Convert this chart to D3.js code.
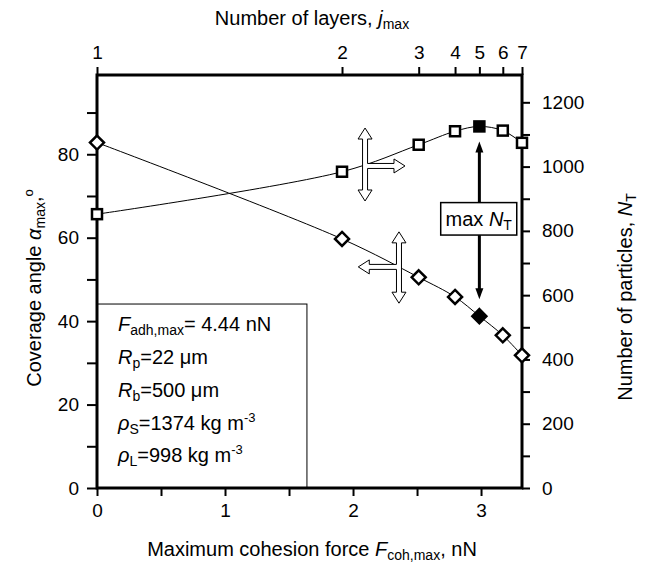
<!DOCTYPE html>
<html>
<head>
<meta charset="utf-8">
<script src="https://cdn.jsdelivr.net/npm/d3@7"></script>
<style>
  html, body { margin: 0; padding: 0; background: #fff; }
  svg { display: block; font-family: "Liberation Sans", Arial, sans-serif; }
</style>
</head>
<body>
<svg id="chart" width="648" height="564"></svg>
<script>
// ---- data ----
const layers = [1, 2, 3, 4, 5, 6, 7];                       // j_max (top axis)
const force  = [0, 1.914, 2.513, 2.797, 2.987, 3.17, 3.32]; // F_coh,max, nN
const alpha  = [82.8, 59.7, 50.5, 45.8, 41.2, 36.6, 31.8];  // coverage angle, deg
const NT     = [852, 984, 1068, 1110, 1125, 1112, 1074];    // number of particles
const maxIndex = 4;
const leftTicks   = [0, 10, 20, 30, 40, 50, 60, 70, 80, 90];
const rightTicks  = [0, 100, 200, 300, 400, 500, 600, 700, 800, 900, 1000, 1100, 1200];
const bottomTicks = [0, 0.5, 1, 1.5, 2, 2.5, 3];

const svg = d3.select("#chart");
const L = 97, R = 522, T = 75, B = 488;
const x  = d3.scaleLinear().domain([0, 3.32]).range([L, R]);
const yL = d3.scaleLinear().domain([0, 99]).range([B, T]);
const yR = d3.scaleLinear().domain([0, 1285]).range([B, T]);

const FS = 19, TFS = 20;

// legend box
svg.append("rect")
  .attr("x", x(0)).attr("y", yL(44.1))
  .attr("width", x(1.64) - x(0)).attr("height", yL(0) - yL(44.1))
  .attr("fill", "#fff").attr("stroke", "#000").attr("stroke-width", 1);

// axes
function styleAxis(g) {
  g.select(".domain").remove();
  g.selectAll(".tick line").attr("stroke", "#000").attr("stroke-width", 2);
  g.selectAll(".tick text").attr("fill", "#000").style("font-size", FS + "px")
    .style("font-family", '"Liberation Sans", Arial, sans-serif');
}
svg.append("g").attr("transform", `translate(${L},0)`)
  .call(d3.axisLeft(yL).tickValues(leftTicks).tickFormat(d => d % 20 === 0 ? d : "").tickSize(10).tickPadding(8))
  .call(styleAxis);
svg.append("g").attr("transform", `translate(${R},0)`)
  .call(d3.axisRight(yR).tickValues(rightTicks).tickFormat(d => d % 200 === 0 ? d : "").tickSize(8).tickPadding(12))
  .call(styleAxis);
svg.append("g").attr("transform", `translate(0,${B})`)
  .call(d3.axisBottom(x).tickValues(bottomTicks).tickFormat(d => Number.isInteger(d) ? d : "").tickSize(8).tickPadding(8))
  .call(styleAxis);
svg.append("g").attr("transform", `translate(0,${T})`)
  .call(d3.axisTop(x).tickValues(force).tickFormat((d, i) => layers[i]).tickSize(8).tickPadding(8))
  .call(styleAxis);

// frame
svg.append("rect").attr("x", L).attr("y", T).attr("width", R - L).attr("height", B - T)
  .attr("fill", "none").attr("stroke", "#000").attr("stroke-width", 3);

// lines
const curve = d3.curveCatmullRom.alpha(0.5);
const lineA = d3.line().x((d, i) => x(force[i])).y(d => yL(d)).curve(curve);
const lineN = d3.line().x((d, i) => x(force[i])).y(d => yR(d)).curve(curve);
svg.append("path").attr("d", lineA(alpha)).attr("fill", "none").attr("stroke", "#000").attr("stroke-width", 1);
svg.append("path").attr("d", lineN(NT)).attr("fill", "none").attr("stroke", "#000").attr("stroke-width", 1);

// markers
svg.selectAll(".sq").data(NT).enter().append("rect")
  .attr("x", (d, i) => x(force[i]) - 5).attr("y", d => yR(d) - 5)
  .attr("width", 10).attr("height", 10)
  .attr("fill", (d, i) => i === maxIndex ? "#000" : "#fff")
  .attr("stroke", "#000").attr("stroke-width", 2.5);
svg.selectAll(".dm").data(alpha).enter().append("path")
  .attr("d", (d, i) => {
    const cx = x(force[i]), cy = yL(d), r = 7;
    return `M${cx},${cy - r}L${cx + r},${cy}L${cx},${cy + r}L${cx - r},${cy}Z`;
  })
  .attr("fill", (d, i) => i === maxIndex ? "#000" : "#fff")
  .attr("stroke", "#000").attr("stroke-width", 2.5);

// hollow cross arrows
function crossArrow(cx, top, bottom, hy, tipX) {
  const dir = tipX > cx ? 1 : -1;
  const sw = 2.5, hw = 7, hl = 11;
  const p = [
    [cx, top], [cx + dir * hw, top + hl], [cx + dir * sw, top + hl], [cx + dir * sw, hy - sw],
    [tipX - dir * hl, hy - sw], [tipX - dir * hl, hy - hw], [tipX, hy], [tipX - dir * hl, hy + hw],
    [tipX - dir * hl, hy + sw], [cx + dir * sw, hy + sw], [cx + dir * sw, bottom - hl],
    [cx + dir * hw, bottom - hl], [cx, bottom], [cx - dir * hw, bottom - hl], [cx - dir * sw, bottom - hl],
    [cx - dir * sw, top + hl], [cx - dir * hw, top + hl]
  ];
  svg.append("path").attr("d", "M" + p.map(q => q.join(",")).join("L") + "Z")
    .attr("fill", "#fff").attr("stroke", "#000").attr("stroke-width", 1);
}
crossArrow(x(2.094), yR(1120), yR(893), yR(1002), x(2.406));
crossArrow(x(2.359), yL(61.4), yL(44.3), yL(53.0), x(2.041));

// max N_T box and black arrows
const ax = x(force[maxIndex]);
const boxTop = yR(888), boxBot = yR(787);
function blackArrow(x0, y0, y1) {
  const dir = y1 < y0 ? -1 : 1;
  svg.append("line").attr("x1", x0).attr("y1", y0).attr("x2", x0).attr("y2", y1 - dir * 9)
    .attr("stroke", "#000").attr("stroke-width", 3);
  svg.append("path").attr("d", `M${x0},${y1}L${x0 - 4},${y1 - dir * 11}L${x0 + 4},${y1 - dir * 11}Z`).attr("fill", "#000");
}
blackArrow(ax, boxTop, yR(NT[maxIndex]) + 15);
blackArrow(ax, boxBot, yL(alpha[maxIndex]) - 17);
svg.append("rect").attr("x", x(2.685)).attr("y", boxTop)
  .attr("width", x(3.279) - x(2.685)).attr("height", boxBot - boxTop)
  .attr("fill", "#fff").attr("stroke", "#000").attr("stroke-width", 1.5);
const mt = svg.append("text").attr("x", (x(2.685) + x(3.279)) / 2).attr("y", (boxTop + boxBot) / 2 + 7)
  .attr("text-anchor", "middle").style("font-size", TFS + "px");
mt.append("tspan").text("max ");
mt.append("tspan").attr("font-style", "italic").text("N");
mt.append("tspan").attr("dy", 4).style("font-size", "14px").text("T");

// legend text
const legX = 118;
function legLine(y, sym, sub, rest, sup) {
  const t = svg.append("text").attr("x", legX).attr("y", y).style("font-size", TFS + "px");
  t.append("tspan").attr("font-style", "italic").text(sym);
  t.append("tspan").attr("dy", 4).style("font-size", "14px").text(sub);
  t.append("tspan").attr("dy", -4).text(rest);
  if (sup) t.append("tspan").attr("dy", -8).style("font-size", "13px").text(sup);
}
legLine(331, "F", "adh,max", "= 4.44 nN");
legLine(364, "R", "p", "=22 \u03bcm");
legLine(397, "R", "b", "=500 \u03bcm");
legLine(430, "\u03c1", "S", "=1374 kg m", "-3");
legLine(462, "\u03c1", "L", "=998 kg m", "-3");

// axis titles
const tt = svg.append("text").attr("x", 312).attr("y", 25).attr("text-anchor", "middle").style("font-size", TFS + "px");
tt.append("tspan").text("Number of layers, ");
tt.append("tspan").attr("font-style", "italic").text("j");
tt.append("tspan").attr("dy", 4).style("font-size", "14px").text("max");

const bt = svg.append("text").attr("x", 312).attr("y", 556).attr("text-anchor", "middle").style("font-size", TFS + "px");
bt.append("tspan").text("Maximum cohesion force ");
bt.append("tspan").attr("font-style", "italic").text("F");
bt.append("tspan").attr("dy", 4).style("font-size", "14px").text("coh,max");
bt.append("tspan").attr("dy", -4).text(", nN");

const lt = svg.append("text").attr("transform", "translate(41,288) rotate(-90)").attr("text-anchor", "middle").style("font-size", TFS + "px");
lt.append("tspan").text("Coverage angle ");
lt.append("tspan").attr("font-style", "italic").text("\u03b1");
lt.append("tspan").attr("dy", 4).style("font-size", "14px").text("max");
lt.append("tspan").attr("dy", -4).text(",");
lt.append("tspan").attr("dy", -8).style("font-size", "13px").text("o");

const rt = svg.append("text").attr("transform", "translate(632,297) rotate(-90)").attr("text-anchor", "middle").style("font-size", TFS + "px");
rt.append("tspan").text("Number of particles, ");
rt.append("tspan").attr("font-style", "italic").text("N");
rt.append("tspan").attr("dy", 4).style("font-size", "14px").text("T");
</script>
</body>
</html>
